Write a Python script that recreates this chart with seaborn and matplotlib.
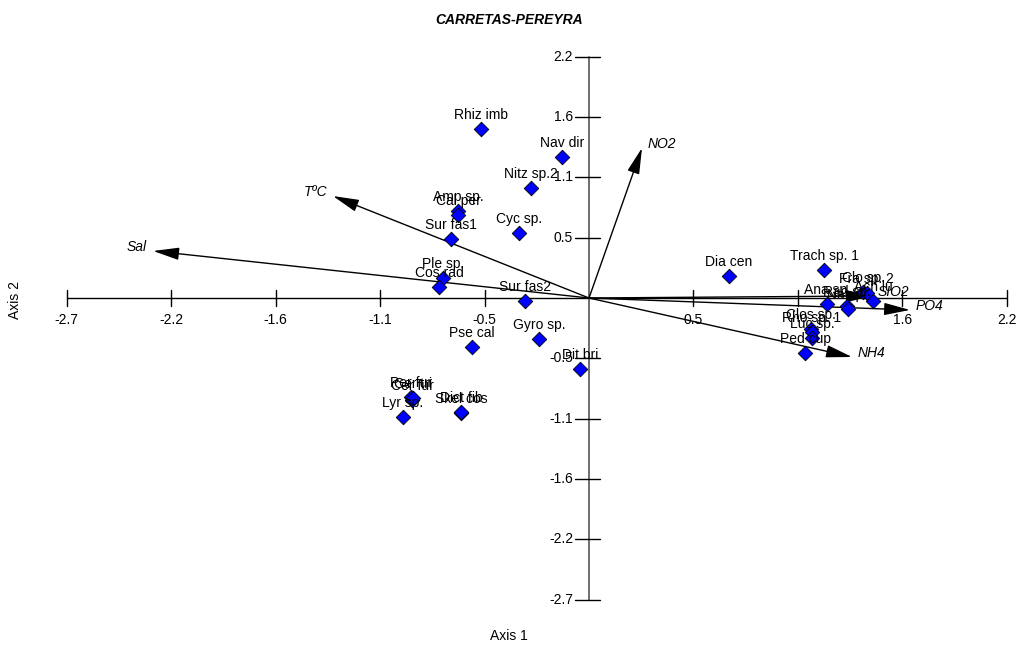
import matplotlib
matplotlib.use("Agg")
import matplotlib.pyplot as plt
import seaborn as sns
import pandas as pd

# ---------------- data ----------------
species = ["Rhiz imb", "Nav dir", "Nitz sp.2", "Amp sp.", "Cal per", "Cyc sp.",
           "Sur fas1", "Ple sp.", "Cos rad", "Sur fas2", "Gyro sp.", "Pse cal",
           "Dit bri", "Per fur", "Cer fur", "Cer tri", "Lyr sp.", "Skel cos",
           "Dict fib", "Dia cen", "Trach sp. 1", "Ana sp.", "Rad sp.", "Nav pr",
           "Clo sp.", "Fra sp. 2", "Ach lu", "Clos sp.", "Rho sp. 1", "Luc sp.",
           "Ped cup"]
axis1 = [-0.558, -0.140, -0.300, -0.677, -0.677, -0.362,
         -0.714, -0.755, -0.776, -0.331, -0.259, -0.605,
         -0.047, -0.920, -0.915, -0.910, -0.962, -0.662,
         -0.662, 0.724, 1.215, 1.231, 1.334, 1.339,
         1.417, 1.437, 1.468, 1.148, 1.153, 1.153,
         1.117]
axis2 = [1.513, 1.262, 0.985, 0.779, 0.743, 0.582,
         0.528, 0.179, 0.098, -0.027, -0.367, -0.439,
         -0.636, -0.886, -0.913, -0.895, -1.066, -1.030,
         -1.021, 0.197, 0.251, -0.054, -0.072, -0.099,
         0.054, 0.045, -0.027, -0.277, -0.304, -0.358,
         -0.492]

env_vars = ["NO2", "TºC", "Sal", "SIO2", "PO4", "NH4"]
env_x = [0.274, -1.324, -2.254, 1.463, 1.660, 1.360]
env_y = [1.343, 0.913, 0.421, 0.018, -0.107, -0.528]

tick_vals = [-2.7, -2.16, -1.62, -1.08, -0.54, 0.54, 1.08, 1.62, 2.16]
x_tick_labels = ["-2.7", "-2.2", "-1.6", "-1.1", "-0.5", "0.5", "", "1.6", "2.2"]
y_tick_labels = ["-2.7", "-2.2", "-1.6", "-1.1", "-0.5", "0.5", "1.1", "1.6", "2.2"]

title = "CARRETAS-PEREYRA"

# ---------------- layout ----------------
W, H = 1018, 648
X0_PX, Y0_PX = 589.0, 298.0          # origin in pixels
SX, SY = 193.4, 111.7                 # pixels per data unit
xmin, xmax = -X0_PX / SX, (W - X0_PX) / SX
ymax, ymin = Y0_PX / SY, -(H - Y0_PX) / SY
px_x = 1.0 / SX                       # data per pixel
px_y = 1.0 / SY

sns.set_theme(style="white")
plt.rcParams["font.family"] = ["Liberation Sans", "DejaVu Sans"]
plt.rcParams["text.color"] = "black"

fig = plt.figure(figsize=(W / 100, H / 100), dpi=100)
ax = fig.add_axes([0, 0, 1, 1])
ax.set_xlim(xmin, xmax)
ax.set_ylim(ymin, ymax)
ax.axis("off")

FS = 10

# axes lines
ax.plot([tick_vals[0], tick_vals[-1]], [0, 0], color="black", lw=1.0, zorder=1)
ax.plot([0, 0], [tick_vals[0], tick_vals[-1]], color="#555555", lw=1.2, zorder=1)

# ticks
for t, lab in zip(tick_vals, x_tick_labels):
    ax.plot([t, t], [-8 * px_y, 8 * px_y], color="black", lw=1.0, zorder=1)
    if lab:
        ax.text(t, -22 * px_y, lab, ha="center", va="center", fontsize=FS)
for t, lab in zip(tick_vals, y_tick_labels):
    ax.plot([-14 * px_x, 11 * px_x], [t, t], color="black", lw=1.0, zorder=1)
    if lab:
        ax.text(-16 * px_x, t, lab, ha="right", va="center", fontsize=FS)

# environmental arrows
for name, ex, ey in zip(env_vars, env_x, env_y):
    ax.annotate("", xy=(ex, ey), xytext=(0, 0),
                arrowprops=dict(arrowstyle="-|>,head_length=1.6,head_width=0.38",
                                color="black", lw=1.0, shrinkA=0, shrinkB=0,
                                mutation_scale=10),
                zorder=2)
    if ex >= 0:
        ax.annotate(name, xy=(ex, ey), xytext=(6, 4), textcoords="offset pixels",
                    ha="left", va="center", fontsize=FS, style="italic")
    else:
        ax.annotate(name, xy=(ex, ey), xytext=(-6, 4), textcoords="offset pixels",
                    ha="right", va="center", fontsize=FS, style="italic")

# species
df = pd.DataFrame({"species": species, "Axis 1": axis1, "Axis 2": axis2})
sns.scatterplot(data=df, x="Axis 1", y="Axis 2", marker="D", color="#0000FF",
                edgecolor="black", linewidth=0.6, s=55, ax=ax, zorder=3,
                legend=False)
for name, sx, sy in zip(species, axis1, axis2):
    ax.annotate(name, xy=(sx, sy), xytext=(0, 14), textcoords="offset pixels",
                ha="center", va="center", fontsize=FS, zorder=4)

ax.set_xlim(xmin, xmax)
ax.set_ylim(ymin, ymax)
ax.axis("off")

# titles
fig.text(0.5, 1 - 20 / H, title, ha="center", va="center", fontsize=FS,
         fontweight="bold", style="italic")
fig.text(0.5, 1 - 636 / H, "Axis 1", ha="center", va="center", fontsize=FS)
fig.text(15 / W, 1 - 300 / H, "Axis 2", ha="center", va="center", fontsize=FS,
         rotation=90)

fig.savefig("out.png", dpi=100)
